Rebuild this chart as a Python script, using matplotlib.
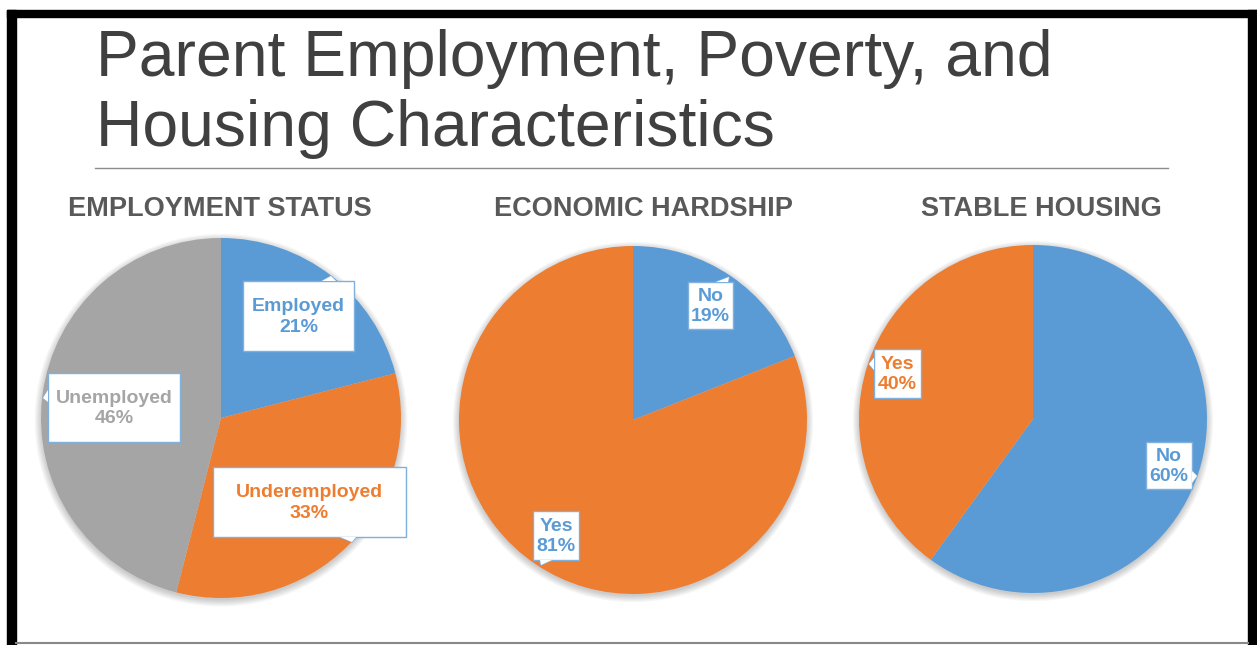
import matplotlib.pyplot as plt
from matplotlib.patches import Rectangle, Circle, Polygon

plt.rcParams['font.family'] = ['Liberation Sans', 'DejaVu Sans']

#### ========== Data ==========

titleLines = ['Parent Employment, Poverty, and', 'Housing Characteristics']

chartTitles = ['EMPLOYMENT STATUS', 'ECONOMIC HARDSHIP', 'STABLE HOUSING']

empLabels = ['Employed', 'Underemployed', 'Unemployed']
empValues = [21, 33, 46]

hardLabels = ['No', 'Yes']
hardValues = [19, 81]

houseLabels = ['No', 'Yes']
houseValues = [60, 40]

#### ========== Style / layout ==========

blue   = '#5B9BD5'
orange = '#ED7D31'
gray   = '#A5A5A5'
dark   = '#404040'

sliceColors = [ [blue, orange, gray], [blue, orange], [blue, orange] ]
textColors  = [ [blue, orange, gray], [blue, blue],   [blue, orange] ]

W, H = 1257, 645

# pie centre x, centre y, radius (pixels from top-left)
pieGeom = [ (221, 418, 180), (633, 420, 174), (1033, 419, 174) ]
titleX  = [ 220, 643, 1041 ]

# label callout boxes (x0, y0, x1, y1) and pointer triangles
boxes = [
    [ (243, 281, 354, 351), (213, 467, 406, 537), (48, 373, 180, 442) ],
    [ (688, 282, 733, 329), (533, 511, 579, 560) ],
    [ (1146, 442, 1192, 489), (874, 349, 921, 398) ],
]
tips = [
    [ ((322, 281), (336, 281), (331, 276)),
      ((340, 537), (356, 537), (352, 542)),
      ((48, 390), (48, 402), (43, 398)) ],
    [ ((716, 282), (728, 282), (729, 277)),
      ((540, 560), (552, 560), (541, 565)) ],
    [ ((1192, 471), (1192, 483), (1197, 476)),
      ((874, 358), (874, 370), (869, 364)) ],
]

#### ========== Plot ==========

fig = plt.figure( figsize = (W / 100, H / 100), dpi = 100 )

bg = fig.add_axes( [0, 0, 1, 1] )
bg.set_xlim( 0, W ); bg.set_ylim( H, 0 ); bg.axis( 'off' )
bg.set_zorder( 0 )

# frame
bg.add_patch( Rectangle( (7, 10), 9, H - 10, color = 'k' ) )
bg.add_patch( Rectangle( (7, 10), W - 7, 7, color = 'k' ) )
bg.add_patch( Rectangle( (1248, 10), 9, H - 10, color = 'k' ) )
bg.plot( [16, 1248], [643, 643], color = '#888888', lw = 1.5 )

bg.text( 96, 76, titleLines[0], fontsize = 46.3, color = dark, va = 'baseline' )
bg.text( 96, 146, titleLines[1], fontsize = 46.3, color = dark, va = 'baseline' )
bg.plot( [95, 1168], [168, 168], color = '#8c8c8c', lw = 1 )

for i in range( 3 ):
    bg.text( titleX[i], 209, chartTitles[i], fontsize = 19.5, weight = 'bold',
             color = '#595959', ha = 'center', va = 'center' )

allLabels = [ empLabels, hardLabels, houseLabels ]
allValues = [ empValues, hardValues, houseValues ]

for i in range( 3 ):
    cx, cy, r = pieGeom[i]
    ax = fig.add_axes( [ (cx - 1.05 * r) / W, (H - cy - 1.05 * r) / H,
                         2.1 * r / W, 2.1 * r / H ] )
    ax.set_zorder( 1 )
    for k in range( 6 ):
        ax.add_patch( Circle( (0, -0.012), 1.0 + 0.007 * k, color = 'k',
                              alpha = 0.035, lw = 0 ) )
    ax.pie( allValues[i], colors = sliceColors[i], startangle = 90,
            counterclock = False, radius = 1.0 )
    ax.set_xlim( -1.05, 1.05 ); ax.set_ylim( -1.05, 1.05 )
    ax.set_aspect( 'equal' )
    ax.axis( 'off' )

fg = fig.add_axes( [0, 0, 1, 1] )
fg.set_xlim( 0, W ); fg.set_ylim( H, 0 ); fg.axis( 'off' )
fg.set_zorder( 2 )
fg.patch.set_alpha( 0 )

for i in range( 3 ):
    for j, lab in enumerate( allLabels[i] ):
        x0, y0, x1, y1 = boxes[i][j]
        fg.add_patch( Polygon( tips[i][j], closed = True, fc = 'white',
                               ec = '#7FB0DE', lw = 1 ) )
        fg.add_patch( Rectangle( (x0, y0), x1 - x0, y1 - y0, fc = 'white',
                                 ec = '#7FB0DE', lw = 1 ) )
        fg.add_patch( Polygon( tips[i][j], closed = True, fc = 'white',
                               ec = 'none', lw = 0 ) )
        fg.text( (x0 + x1) / 2, (y0 + y1) / 2 + 1,
                 '{:}\n{:}%'.format( lab, allValues[i][j] ),
                 fontsize = 14, weight = 'bold', color = textColors[i][j],
                 ha = 'center', va = 'center', linespacing = 1.3 )

fig.savefig( 'out.png', dpi = 100 )
